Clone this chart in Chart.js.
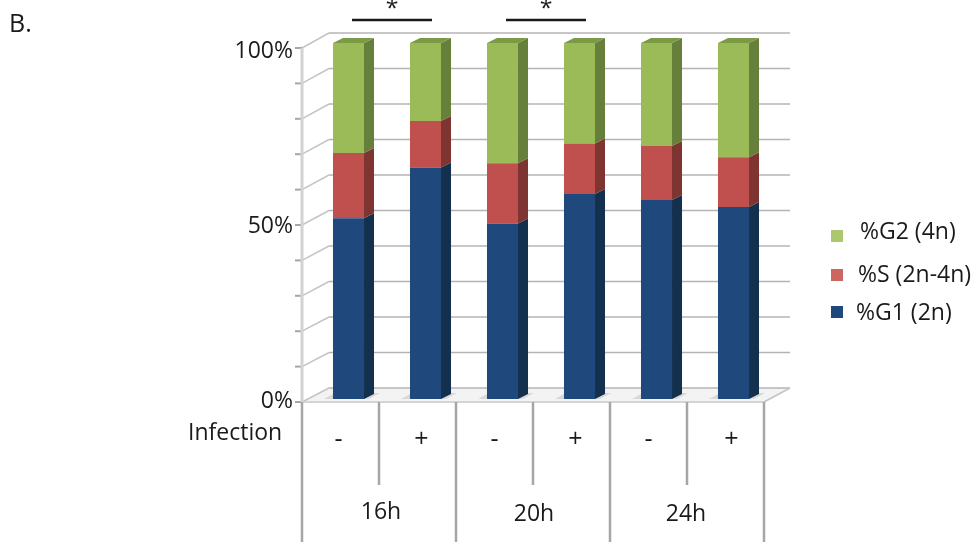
<!DOCTYPE html>
<html>
<head>
<meta charset="utf-8">
<title>Cell cycle</title>
<script src="https://cdn.jsdelivr.net/npm/chart.js@4"></script>
<style>
html, body { margin: 0; padding: 0; background: #fff; }
canvas { display: block; }
</style>
</head>
<body>
<canvas id="cycleChart" width="976" height="542"></canvas>
<script>
// Data
const infection = ['-', '+', '-', '+', '-', '+'];
const timepoints = ['16h', '20h', '24h'];
const g1Values = [50.8, 65.0, 49.3, 57.6, 55.9, 53.9];
const sValues = [18.3, 13.1, 16.9, 14.2, 15.2, 14.0];
const g2Values = [30.9, 21.9, 33.8, 28.2, 28.9, 32.1];
const gridValues = [0, 10, 20, 30, 40, 50, 60, 70, 80, 90, 100];
const labelledTicks = [0, 50, 100];

const FONT = '"Open Sans", "Noto Sans", sans-serif';
const AXIS_GREY = '#a6a6a6';

// Colours for each series: front, side, top, legend swatch
const looks = [
    { front: '#1f497d', side: '#14304f', top: '#14304f', swatch: '#1f497d' },
    { front: '#c0504d', side: '#7e3431', top: '#7e3431', swatch: '#cd6660' },
    { front: '#9bbb59', side: '#66803b', top: '#7a9a45', swatch: '#adc76f' }
];

function line(ctx, x1, y1, x2, y2, color, width) {
    ctx.strokeStyle = color;
    ctx.lineWidth = width;
    ctx.beginPath();
    ctx.moveTo(x1, y1);
    ctx.lineTo(x2, y2);
    ctx.stroke();
}

function poly(ctx, pts, color) {
    ctx.fillStyle = color;
    ctx.beginPath();
    pts.forEach((p, i) => i ? ctx.lineTo(p[0], p[1]) : ctx.moveTo(p[0], p[1]));
    ctx.closePath();
    ctx.fill();
}

function text(ctx, str, x, y, size, align) {
    ctx.fillStyle = '#1a1a1a';
    ctx.font = size + 'px ' + FONT;
    ctx.textAlign = align || 'center';
    ctx.textBaseline = 'middle';
    ctx.fillText(str, x, y);
}

// Walls, floor and grid sit behind the bars
const wallsPlugin = {
    id: 'walls',
    beforeDatasetsDraw(chart) {
        const ctx = chart.ctx;
        const yScale = chart.scales.y;
        const area = chart.chartArea;
        const frontL = area.left - 8, frontR = area.right - 8;
        const backL = area.left + 19, backR = area.right + 18;
        const frontY = v => yScale.getPixelForValue(v) + 3 + 2 * v / 100;
        const backY = v => yScale.getPixelForValue(v) - 11 + v / 100;

        ctx.save();
        poly(ctx, [[frontL, frontY(0)], [frontR, frontY(0)], [backR, backY(0)], [backL, backY(0)]], '#f3f3f3');
        gridValues.forEach(v => {
            line(ctx, frontL, frontY(v), backL, backY(v), '#c4c4c4', 1.5);
            line(ctx, backL, backY(v), backR, backY(v), '#b4b4b4', 1.5);
            line(ctx, frontL - 7, frontY(v), frontL, frontY(v), AXIS_GREY, 2);
        });
        line(ctx, frontR, frontY(0), backR, backY(0), '#c4c4c4', 1.5);
        line(ctx, frontL, frontY(100), frontL, frontY(0), '#d2d2d2', 3);
        line(ctx, frontL, frontY(0), frontR, frontY(0), '#d4d4d4', 2);

        // soft shadow on the floor at the foot of each bar
        chart.getDatasetMeta(0).data.forEach(bar => {
            const p = bar.getProps(['x', 'y', 'base', 'width'], true);
            const l = p.x - p.width / 2, r = p.x + p.width / 2;
            poly(ctx, [[l - 9, p.base], [r + 5, p.base], [r + 16, p.base - 6], [l + 2, p.base - 6]], '#d8d8d8');
        });
        ctx.restore();
    }
};

// Side and top faces of the bars, then all the text around the plot
const facesPlugin = {
    id: 'faces',
    afterDatasetsDraw(chart) {
        const ctx = chart.ctx;
        const dx = 10, dy = -5;
        ctx.save();
        chart.data.datasets.forEach((ds, i) => {
            chart.getDatasetMeta(i).data.forEach(bar => {
                const p = bar.getProps(['x', 'y', 'base', 'width'], true);
                const l = p.x - p.width / 2, r = p.x + p.width / 2;
                poly(ctx, [[r, p.y], [r + dx, p.y + dy], [r + dx, p.base + dy], [r, p.base]], looks[i].side);
                if (i === chart.data.datasets.length - 1) {
                    poly(ctx, [[l, p.y], [r, p.y], [r + dx, p.y + dy], [l + dx, p.y + dy]], looks[i].top);
                }
            });
        });
        ctx.restore();
    },
    afterDraw(chart) {
        const ctx = chart.ctx;
        const yScale = chart.scales.y;
        const xScale = chart.scales.x;
        const area = chart.chartArea;
        const step = (area.right - area.left) / infection.length;
        const frontL = area.left - 8;
        const axisY = area.bottom + 3;
        ctx.save();

        // y tick labels
        labelledTicks.forEach(v => {
            text(ctx, v + '%', 293, yScale.getPixelForValue(v) + 2 + 6 * v / 100, 23, 'right');
        });

        // category separators, tall ones between the time groups
        infection.forEach((_, i) => {
            const x = frontL + step * i;
            line(ctx, x, axisY, x, i % 2 === 0 ? 542 : 485, AXIS_GREY, 2.5);
        });
        line(ctx, frontL + step * infection.length, axisY, frontL + step * infection.length, 542, AXIS_GREY, 2.5);

        const signShift = [-10, -4, -8, -4, -8, -2];
        infection.forEach((label, i) => {
            text(ctx, label, xScale.getPixelForValue(i) + signShift[i], 440, 25);
        });
        const groupShift = [2, 1, -1];
        timepoints.forEach((label, i) => {
            text(ctx, label, frontL + step * (2 * i + 1) + groupShift[i], i === 0 ? 512 : 514, 23);
        });
        text(ctx, 'Infection', 188, 433, 23, 'left');
        text(ctx, 'B.', 9, 25, 25, 'left');

        // significance marks over the 16h and 20h pairs
        [0, 2].forEach(i => {
            const mid = (xScale.getPixelForValue(i) + xScale.getPixelForValue(i + 1)) / 2;
            line(ctx, mid + 5 - 40, 20, mid + 5 + 40, 20, '#1a1a1a', 2.5);
            text(ctx, '*', mid + 5, 9, 23);
        });

        // legend, top series first
        const rows = [
            { i: 2, y: 236, ty: 232, tx: 860 },
            { i: 1, y: 275, ty: 275, tx: 858 },
            { i: 0, y: 312, ty: 313, tx: 856 }
        ];
        rows.forEach(row => {
            ctx.fillStyle = looks[row.i].swatch;
            ctx.fillRect(831, row.y - 6, 12, 12);
            text(ctx, chart.data.datasets[row.i].label, row.tx, row.ty, 23, 'left');
        });
        ctx.restore();
    }
};

const bar = (label, data, i) => ({
    label: label,
    data: data,
    backgroundColor: looks[i].front,
    borderWidth: 0,
    barPercentage: 0.403,
    categoryPercentage: 1
});

new Chart(document.getElementById('cycleChart'), {
    type: 'bar',
    data: {
        labels: infection,
        datasets: [
            bar('%G1 (2n)', g1Values, 0),
            bar('%S (2n-4n)', sValues, 1),
            bar('%G2 (4n)', g2Values, 2)
        ]
    },
    options: {
        responsive: false,
        animation: false,
        layout: { padding: { left: 310, right: 204, top: 43, bottom: 143 } },
        plugins: { legend: { display: false }, tooltip: { enabled: false } },
        scales: {
            x: { stacked: true, display: false },
            y: { stacked: true, display: false, min: 0, max: 100 }
        }
    },
    plugins: [wallsPlugin, facesPlugin]
});
</script>
</body>
</html>
